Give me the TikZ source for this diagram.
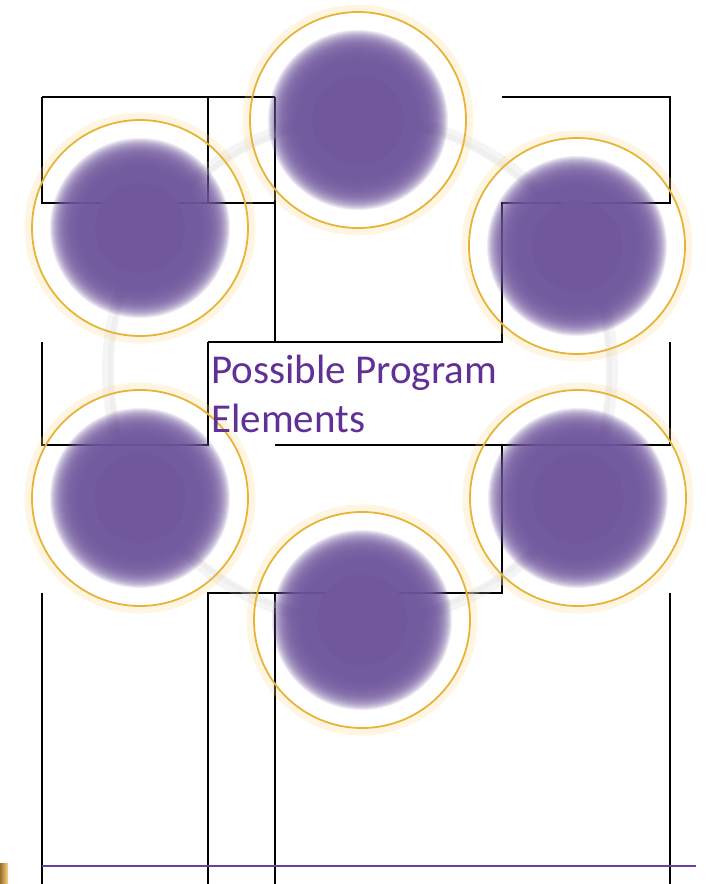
\documentclass[tikz,border=0pt]{standalone}
\usepackage{fontspec}
\setmainfont{Carlito}
\usepackage{xcolor}
\usepackage{tikz}
\usetikzlibrary{positioning}
\definecolor{DiscPurple}{RGB}{113,88,157}
\definecolor{TitlePurple}{RGB}{96,48,150}
\definecolor{RuleBlue}{RGB}{104,64,160}
\definecolor{RingGold}{RGB}{232,180,56}
\definecolor{GlowGold}{RGB}{252,214,140}
\definecolor{TabBronze}{RGB}{150,110,40}
\tikzset{
  gridline/.style={black, line width=2.2pt},
  glow/.style={GlowGold, line width=7pt, draw opacity=0.25},
  goldring/.style={RingGold, line width=1.8pt},
  discfade/.style={fill=DiscPurple, fill opacity=0.12},
  disccore/.style={fill=DiscPurple},
  bigring/.style={gray!40, line width=12pt, draw opacity=0.2},
  title/.style={anchor=base west, inner sep=0pt, text=TitlePurple,
    font=\fontsize{41}{49}\selectfont},
}

\begin{document}
\begin{tikzpicture}[x=1pt, y=-1pt]
    \useasboundingbox (0,0) rectangle (706,884);
    % the empty table grid behind the picture
    \draw[gridline] (42,97) -- (275,97) (42,97) -- (42,203) -- (275,203) (208,97) -- (208,203);
    \draw[gridline] (275,97) -- (275,342) -- (502,342) -- (502,203) -- (670,203) -- (670,97) -- (502,97);
    \draw[gridline] (208,342) -- (275,342);
    \draw[gridline] (42,342) -- (42,445) -- (208,445) -- (208,342);
    \draw[gridline] (275,445) -- (670,445) -- (670,342);
    \draw[gridline] (502,445) -- (502,593) -- (208,593) -- (208,884);
    \draw[gridline] (275,593) -- (275,884);
    \draw[gridline] (42,593) -- (42,884);
    \draw[gridline] (670,593) -- (670,884);
    % the large grey ring behind the discs
    \draw[bigring] (360,370) circle (252);
    \draw[gray!25, line width=5pt, draw opacity=0.25] (360,370) circle (250);
    % the six glowing discs
    \foreach \cx/\cy in {358/120, 140/228, 577/246, 140/498, 578/498, 362/620} {
      \draw[glow] (\cx,\cy) circle (112);
      \draw[goldring] (\cx,\cy) circle (108);
      \foreach \r in {90,89,...,46} \fill[discfade] (\cx,\cy) circle (\r);
      \fill[disccore] (\cx,\cy) circle (45.5);
    }
    % the title
    \node[title] (ttl1) at (211,383) {Possible Program};
    \node[title] (ttl2) at (211,432) {Elements};
    % footer rule and the cut tab
    \draw[RuleBlue, line width=2.5pt] (42,866) -- (696,866);
    \shade[left color=TabBronze, right color=GlowGold] (0,863) rectangle (8,884);
\end{tikzpicture}
\end{document}
